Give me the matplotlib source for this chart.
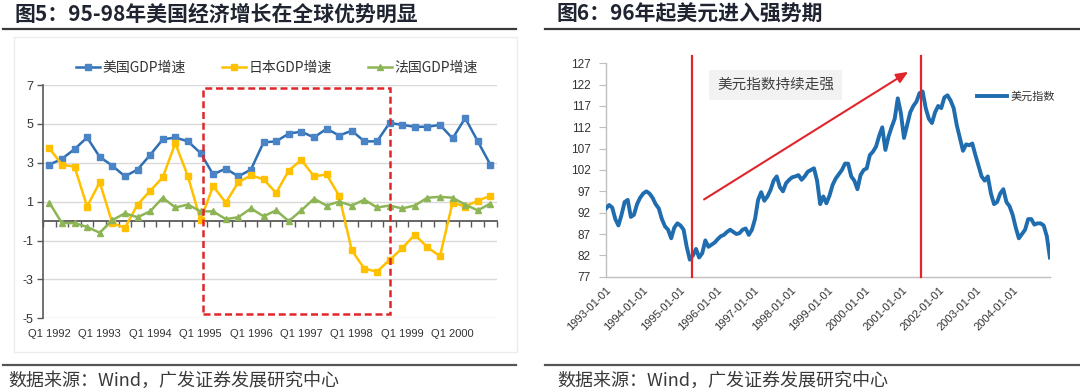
import matplotlib
matplotlib.use('Agg')
import matplotlib.pyplot as plt
from matplotlib.lines import Line2D
from matplotlib.patches import Rectangle
from matplotlib import font_manager
import numpy as np
import pandas as pd

plt.rcParams['font.family'] = ['Noto Sans CJK SC', 'DejaVu Sans']
plt.rcParams['axes.unicode_minus'] = False
_names = {f.name for f in font_manager.fontManager.ttflist}
NARROW = 'Liberation Sans Narrow' if 'Liberation Sans Narrow' in _names else 'Liberation Sans'
NARROW_SIZE = 10 if NARROW == 'Liberation Sans Narrow' else 8
ARIAL = 'Liberation Sans'

# ---------------- Left chart data (quarterly GDP growth, %) ----------------
quarter_labels = ["Q1 1992", "Q1 1993", "Q1 1994", "Q1 1995", "Q1 1996",
                  "Q1 1997", "Q1 1998", "Q1 1999", "Q1 2000"]
us_gdp = [2.9, 3.2, 3.7, 4.3, 3.3, 2.85, 2.3, 2.65, 3.4, 4.2, 4.3, 4.1,
          3.5, 2.4, 2.7, 2.3, 2.65, 4.05, 4.1, 4.5, 4.6, 4.3, 4.75, 4.4,
          4.65, 4.1, 4.1, 5.05, 4.95, 4.85, 4.85, 4.95, 4.25, 5.3, 4.1, 2.9]
jp_gdp = [3.75, 2.9, 2.8, 0.75, 2.0, -0.1, -0.35, 0.85, 1.55, 2.25, 4.0, 2.3,
          0.05, 1.8, 0.95, 2.0, 2.35, 2.15, 1.45, 2.6, 3.15, 2.3, 2.4, 1.3,
          -1.5, -2.45, -2.6, -2.0, -1.4, -0.7, -1.35, -1.8, 0.95, 0.75, 1.05, 1.3]
fr_gdp = [0.95, -0.1, -0.1, -0.3, -0.6, 0.05, 0.4, 0.2, 0.5, 1.2, 0.7, 0.85,
          0.5, 0.5, 0.1, 0.2, 0.65, 0.25, 0.55, 0.0, 0.55, 1.15, 0.8, 1.0,
          0.8, 1.1, 0.7, 0.8, 0.65, 0.8, 1.2, 1.25, 1.2, 0.85, 0.55, 0.9]

# ---------------- Right chart data (US dollar index, monthly) ----------------
dxy_1993 = [93.0, 93.8, 93.2, 90.5, 89.0, 91.5, 94.5, 95.0, 91.0, 91.5, 94.0, 95.5]
dxy_1994 = [96.5, 97.0, 96.5, 95.5, 94.0, 93.0, 90.5, 88.8, 88.0, 86.0, 88.5, 89.5]
dxy_1995 = [89.0, 88.0, 84.0, 81.0, 82.0, 83.5, 81.5, 82.5, 85.5, 84.0, 84.5, 85.0]
dxy_1996 = [85.8, 86.5, 86.8, 87.5, 88.0, 87.5, 87.0, 87.2, 88.0, 88.3, 86.8, 88.0]
dxy_1997 = [90.5, 95.0, 96.8, 94.8, 95.8, 97.3, 99.5, 100.5, 98.0, 97.0, 98.9, 99.7]
dxy_1998 = [100.3, 100.5, 100.8, 99.7, 100.5, 101.6, 102.0, 102.4, 99.5, 94.0, 95.8, 94.2]
dxy_1999 = [96.0, 98.5, 100.0, 101.0, 102.0, 103.5, 103.5, 100.5, 99.5, 97.5, 100.8, 102.0]
dxy_2000 = [102.4, 105.5, 106.3, 107.5, 110.0, 112.0, 106.7, 109.8, 112.0, 114.0, 118.8, 115.3]
dxy_2001 = [109.5, 112.5, 115.5, 117.0, 118.0, 120.0, 120.4, 116.5, 114.0, 113.0, 115.5, 117.0]
dxy_2002 = [116.5, 119.0, 119.5, 118.3, 116.5, 112.5, 109.5, 106.5, 108.0, 107.8, 108.2, 105.5]
dxy_2003 = [103.0, 100.5, 99.5, 100.5, 96.5, 94.0, 94.5, 96.5, 97.5, 94.5, 93.5, 91.5]
dxy_2004 = [88.5, 86.0, 87.0, 88.0, 90.5, 90.5, 89.2, 89.5, 89.5, 89.0, 86.5, 81.5]
dxy_values = (dxy_1993 + dxy_1994 + dxy_1995 + dxy_1996 + dxy_1997 + dxy_1998 +
              dxy_1999 + dxy_2000 + dxy_2001 + dxy_2002 + dxy_2003 + dxy_2004)
dxy_dates = pd.date_range('1993-01-01', '2004-12-31', periods=len(dxy_values))
year_ticks = pd.date_range('1993-01-01', '2004-01-01', freq='YS')

RED = '#e0262b'
W, H = 1080, 391

fig = plt.figure(figsize=(W / 100, H / 100), dpi=100)

def fx(px):
    return px / W

def fy(py):
    return 1 - py / H

# titles and rules
fig.text(fx(15), fy(14), '图5：95-98年美国经济增长在全球优势明显', fontsize=15,
         fontweight='bold', color='#1f2430', va='center', ha='left')
fig.text(fx(557), fy(14), '图6：96年起美元进入强势期', fontsize=15,
         fontweight='bold', color='#1f2430', va='center', ha='left')
for x0, x1 in [(3, 516), (545, 1079)]:
    fig.add_artist(Line2D([fx(x0), fx(x1)], [fy(29), fy(29)], color='#3a3a3a', lw=1.6))
    fig.add_artist(Line2D([fx(x0), fx(x1)], [fy(365), fy(365)], color='#555555', lw=1.6))
fig.text(fx(8), fy(381), '数据来源：Wind，广发证券发展研究中心', fontsize=13,
         color='#3a3a3a', va='center', ha='left')
fig.text(fx(557), fy(381), '数据来源：Wind，广发证券发展研究中心', fontsize=13,
         color='#3a3a3a', va='center', ha='left')

# faint frame around left chart
fig.add_artist(Rectangle((fx(14), fy(352)), fx(517 - 14), (352 - 37) / H,
                         transform=fig.transFigure, fill=False, ec='#ececec', lw=1))

# ---------------- Left chart ----------------
ax1 = fig.add_axes([fx(43), fy(318.3), fx(496.7 - 43), (318.3 - 85) / H])
xq = np.arange(len(us_gdp))
ax1.plot(xq, us_gdp, color='#2e6fb4', lw=1.8, marker='s', ms=4.3,
         mfc='#4a84c6', mec='#4a84c6', label='美国GDP增速', zorder=4)
ax1.plot(xq, jp_gdp, color='#ffc000', lw=1.8, marker='s', ms=4.3,
         mfc='#ffc000', mec='#ffc000', label='日本GDP增速', zorder=4)
ax1.plot(xq, fr_gdp, color='#8db556', lw=1.8, marker='^', ms=5,
         mfc='#8db556', mec='#8db556', label='法国GDP增速', zorder=4)
ax1.set_xlim(-0.5, len(us_gdp) - 0.5)
ax1.set_ylim(-5, 7)
ax1.set_yticks([-5, -3, -1, 1, 3, 5, 7])
ax1.grid(axis='y', color='#d9d9d9', lw=1)
ax1.set_axisbelow(True)
for s in ['top', 'right']:
    ax1.spines[s].set_visible(False)
ax1.spines['left'].set_color('#595959')
ax1.spines['left'].set_linewidth(1.2)
ax1.spines['bottom'].set_position(('data', 0))
ax1.spines['bottom'].set_color('#595959')
ax1.spines['bottom'].set_linewidth(1.3)
ax1.set_xticks(np.arange(-0.5, len(us_gdp), 1))
ax1.tick_params(axis='x', length=4, width=1, color='#595959', labelbottom=False)
ax1.tick_params(axis='y', length=4, width=1, color='#595959', pad=3,
                labelsize=NARROW_SIZE + 1, labelcolor='#333333')
for lbl in ax1.get_yticklabels():
    lbl.set_fontfamily(NARROW)
sec = ax1.secondary_xaxis('bottom')
sec.set_xticks(np.arange(0, len(us_gdp), 4), quarter_labels, fontfamily=NARROW)
sec.tick_params(length=0, pad=8, labelsize=NARROW_SIZE, labelcolor='#333333')
sec.spines['bottom'].set_visible(False)

# red dashed highlight box (Q1 1995 - Q4 1998)
box_x0, box_x1, box_y0, box_y1 = 12.16, 27.0, -4.78, 6.83
ax1.add_patch(Rectangle((box_x0, box_y0), box_x1 - box_x0, box_y1 - box_y0,
                        fill=False, ec=RED, lw=1.8, ls=(0, (2.8, 1.5)), zorder=6))

fig.legend(handles=ax1.get_lines(), loc='center', bbox_to_anchor=(fx(277), fy(68)),
           ncol=3, frameon=False, fontsize=10, handlelength=1.7, handletextpad=0.2,
           columnspacing=2.6, labelcolor='#333333', borderpad=0)

# ---------------- Right chart ----------------
ax2 = fig.add_axes([fx(606), fy(276.7), fx(1050 - 606), (276.7 - 63.3) / H])
ax2.plot(dxy_dates, dxy_values, color='#1f6cae', lw=2.8, label='美元指数', zorder=3)
ax2.set_xlim(pd.Timestamp('1993-01-01'), pd.Timestamp('2005-01-01'))
ax2.set_ylim(77, 127)
ax2.set_yticks(np.arange(77, 128, 5))
ax2.set_xticks(year_ticks)
ax2.set_xticklabels([d.strftime('%Y-%m-%d') for d in year_ticks], rotation=45,
                    ha='right', va='top', rotation_mode='anchor', fontfamily=ARIAL)
for s in ['top', 'right']:
    ax2.spines[s].set_visible(False)
for s in ['left', 'bottom']:
    ax2.spines[s].set_color('#bfbfbf')
    ax2.spines[s].set_linewidth(1)
ax2.tick_params(axis='y', length=5, color='#bfbfbf', pad=6, labelsize=8.5,
                labelcolor='#333333')
for lbl in ax2.get_yticklabels():
    lbl.set_fontfamily(ARIAL)
ax2.tick_params(axis='x', length=0, pad=6, labelsize=8, labelcolor='#333333')

vline_dates = [pd.Timestamp('1995-05-01'), pd.Timestamp('2001-07-06')]
for d in vline_dates:
    ax2.plot([d, d], [77, 128.7], color=RED, lw=1.6, clip_on=False, zorder=4)

ax2.annotate('', xy=(pd.Timestamp('2001-03-03'), 125.0),
             xytext=(pd.Timestamp('1995-08-27'), 95.1),
             arrowprops=dict(arrowstyle='-|>,head_length=0.7,head_width=0.3',
                             color=RED, lw=1.5, shrinkA=0, shrinkB=0),
             annotation_clip=False, zorder=5)
ax2.text(pd.Timestamp('1997-08-01'), 122.0, '美元指数持续走强', ha='center', va='center',
         fontsize=10.5, color='#404040',
         bbox=dict(boxstyle='square,pad=0.55', fc='#f2f2f2', ec='none'))

ax2.legend(loc='center left', bbox_to_anchor=((977 - 606) / 444, (276.7 - 97) / 213.4),
           frameon=False, fontsize=8, handlelength=2.7, handletextpad=0.3,
           borderpad=0, borderaxespad=0, labelcolor='#333333')

fig.savefig('out.png', dpi=100)
